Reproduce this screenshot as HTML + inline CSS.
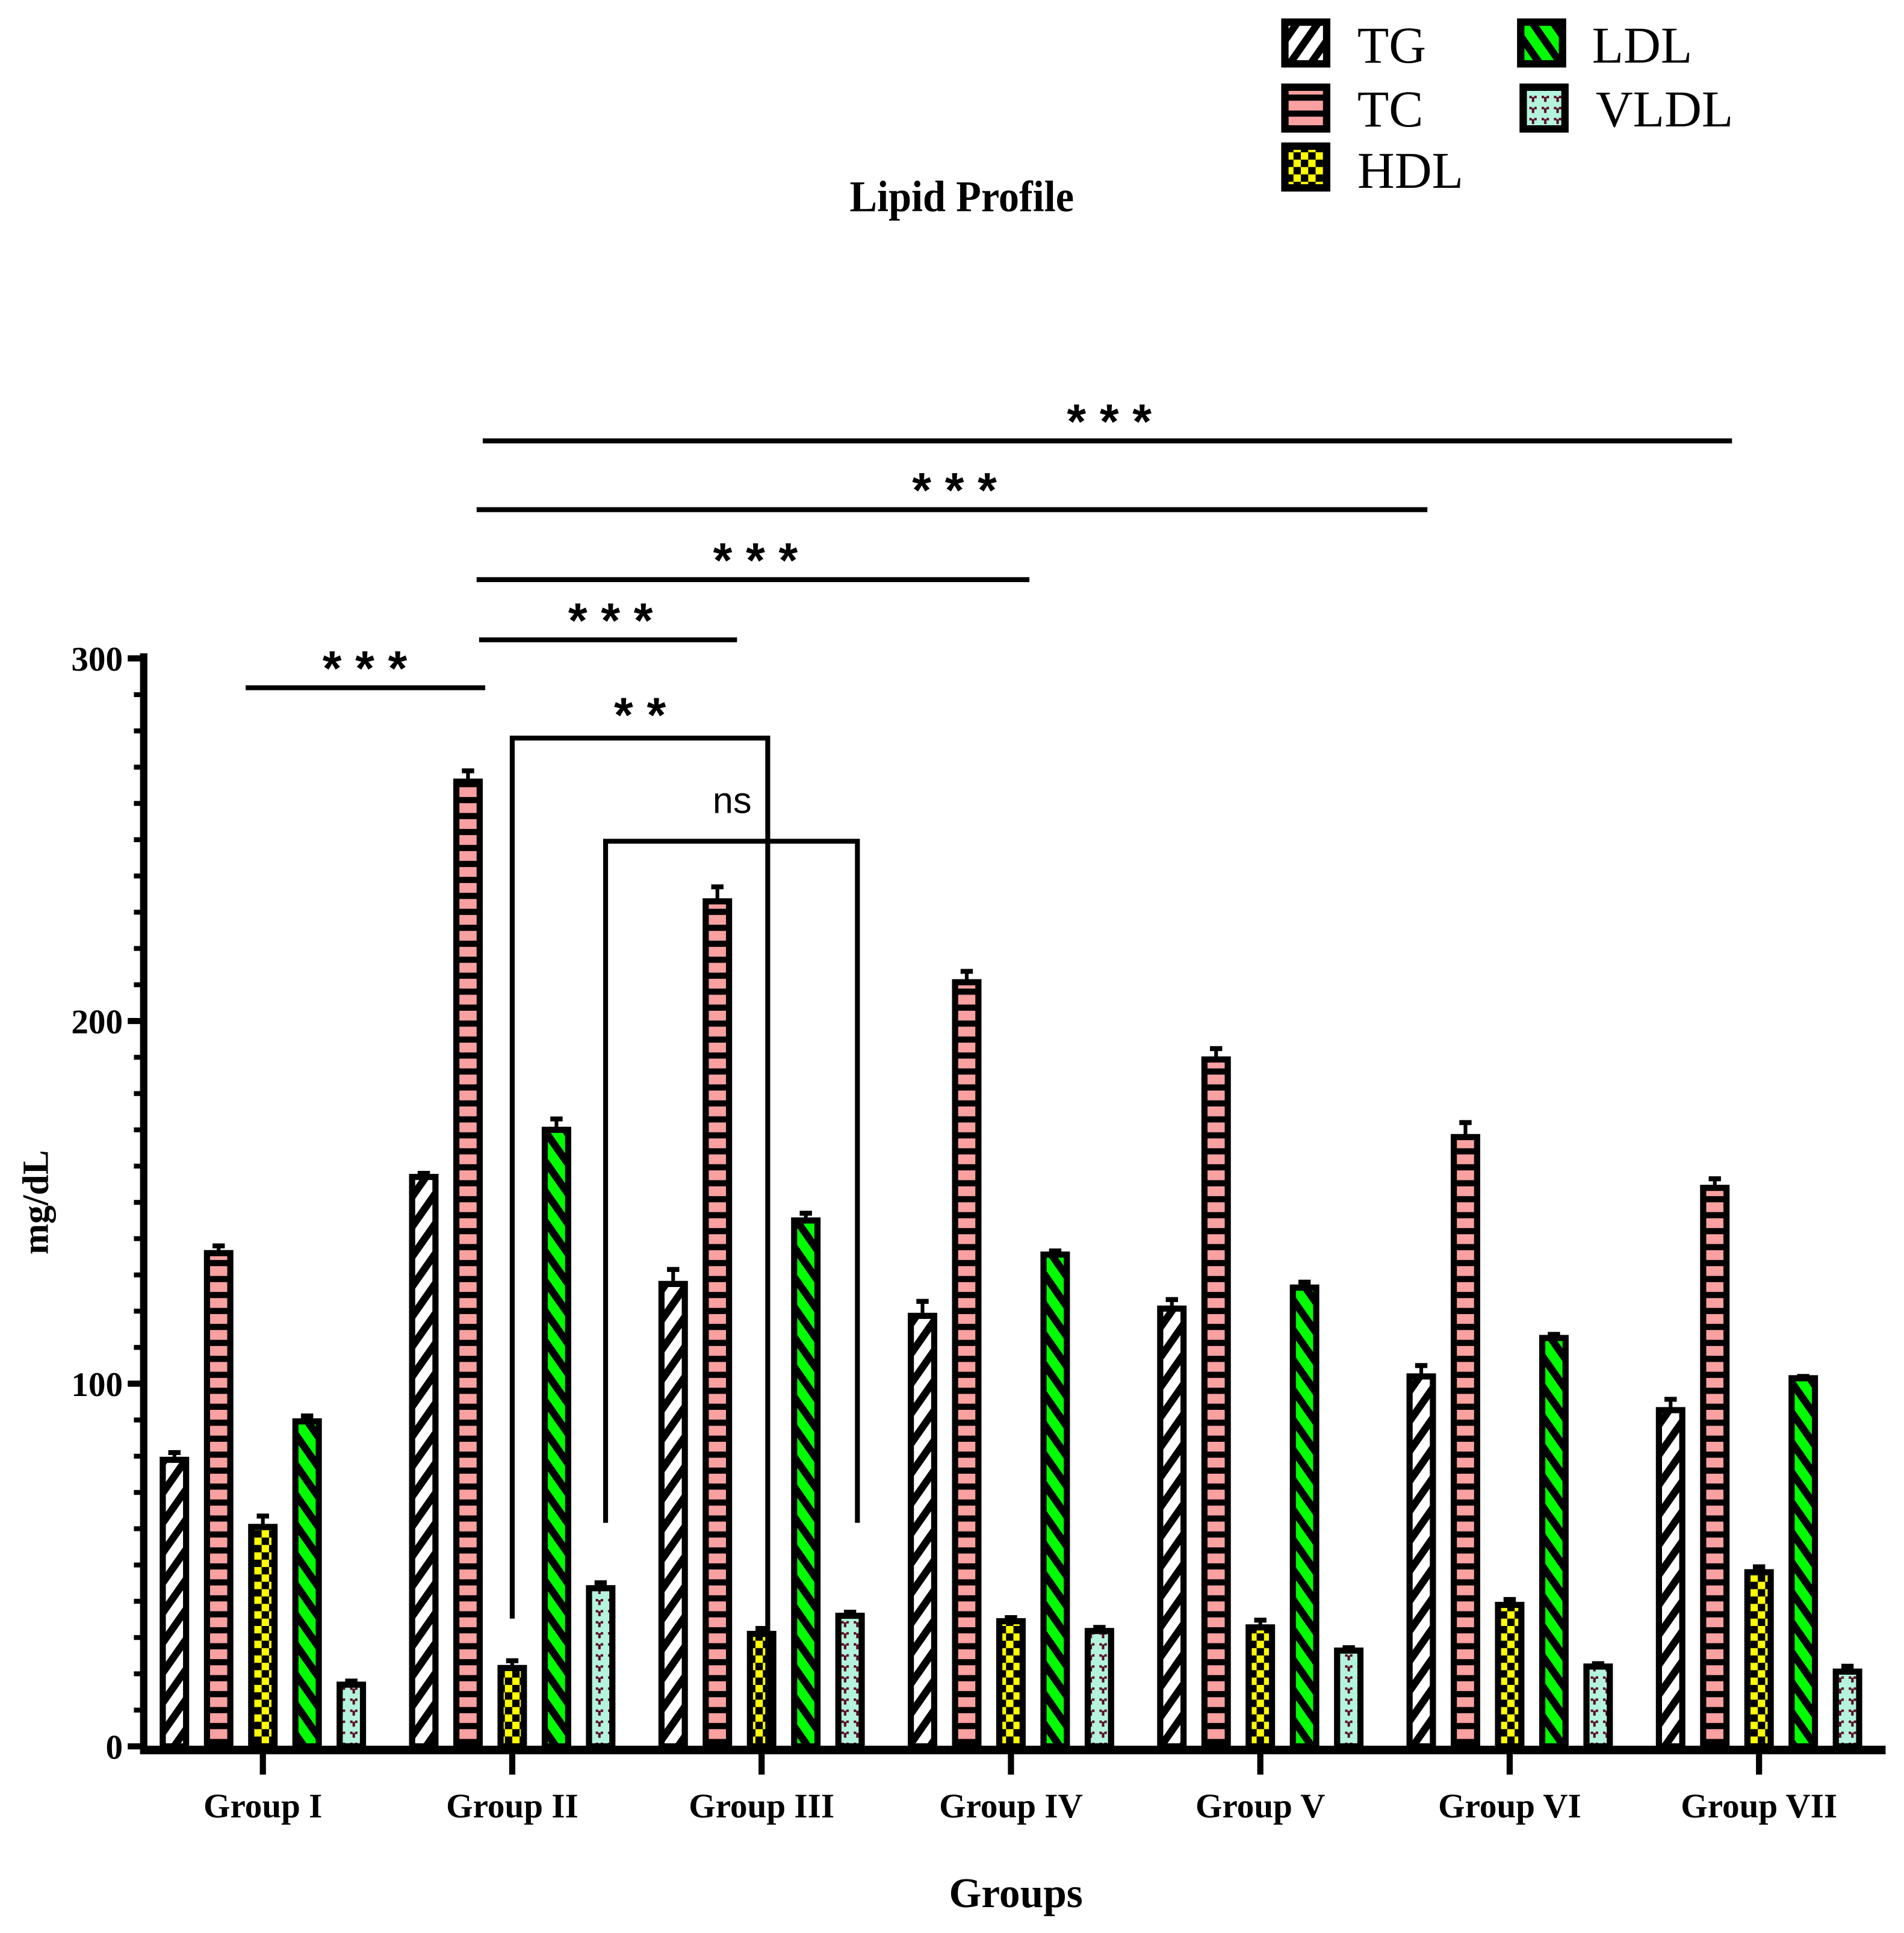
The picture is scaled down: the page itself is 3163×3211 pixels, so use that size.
<!DOCTYPE html>
<html><head><meta charset="utf-8"><style>
html,body{margin:0;padding:0;background:#fff;}
svg{display:block;}
</style></head><body>
<svg xmlns="http://www.w3.org/2000/svg" width="3163" height="3211" viewBox="0 0 1550 1574" preserveAspectRatio="none">
<defs>
<pattern id="pTG" patternUnits="userSpaceOnUse" width="14" height="14" patternTransform="rotate(35)"><rect width="14" height="14" fill="#fff"/><rect width="6" height="14" fill="#000"/></pattern>
<pattern id="pTC" patternUnits="userSpaceOnUse" width="14" height="13"><rect width="14" height="13" fill="#000"/><rect y="0" width="14" height="8" fill="#f9a0a0"/></pattern>
<pattern id="pHDL" patternUnits="userSpaceOnUse" width="12" height="12"><rect width="12" height="12" fill="#000"/><rect x="0" y="0" width="6" height="6" fill="#ff0"/><rect x="6" y="6" width="6" height="6" fill="#ff0"/></pattern>
<pattern id="pLDL" patternUnits="userSpaceOnUse" width="14" height="14" patternTransform="rotate(-35)"><rect width="14" height="14" fill="#00ff00"/><rect width="6" height="14" fill="#000"/></pattern>
<pattern id="pVLDL" patternUnits="userSpaceOnUse" width="10" height="9"><rect width="10" height="9" fill="#b4f4df"/><rect x="4" y="3" width="2" height="4" fill="#5a0a1e"/><rect x="2" y="2" width="2" height="2" fill="#5a0a1e"/><rect x="6" y="2" width="2" height="2" fill="#5a0a1e"/></pattern>
</defs>
<g transform="translate(3,4)">
<g id="bars"></g>
<g id="axes"></g>
<g id="sig"></g>
<text x="780" y="168" text-anchor="middle" font-family="Liberation Serif, serif" font-weight="bold" font-size="36" transform="translate(780,0) scale(0.93,1) translate(-780,0)">Lipid Profile</text>
<text transform="translate(36,975) rotate(-90)" text-anchor="middle" font-family="Liberation Serif, serif" font-weight="bold" font-size="30">mg/dL</text>
<text x="824" y="1549" text-anchor="middle" font-family="Liberation Serif, serif" font-weight="bold" font-size="34">Groups</text>
<g font-family="Liberation Serif, serif" font-size="42">
 <g><rect x="1043" y="14" width="34" height="34" fill="url(#pTG)" stroke="#000" stroke-width="6"/><text x="1102" y="47">TG</text></g>
 <g><rect x="1043" y="67" width="34" height="34" fill="url(#pTC)" stroke="#000" stroke-width="6"/><text x="1102" y="99">TC</text></g>
 <g><rect x="1043" y="115" width="34" height="34" fill="url(#pHDL)" stroke="#000" stroke-width="6"/><text x="1102" y="149">HDL</text></g>
 <g><rect x="1235" y="14" width="34" height="34" fill="url(#pLDL)" stroke="#000" stroke-width="6"/><text x="1293" y="47">LDL</text></g>
 <g><rect x="1237" y="67" width="34" height="34" fill="url(#pVLDL)" stroke="#000" stroke-width="6"/><text x="1296" y="99">VLDL</text></g>
</g>
</g>
</svg>
<script>
const groups = ["Group I","Group II","Group III","Group IV","Group V","Group VI","Group VII"];
const seriesNames = ["TG","TC","HDL","LDL","VLDL"];
const tgValues = [79,157,127.5,118.7,120.7,102,92.7];
const tcValues = [136,266,233,210.7,189.4,168,154];
const hdlValues = [60.5,21.6,31,34.5,32.8,39,48];
const ldlValues = [89.6,170,145,135.6,126.5,112.6,101.5];
const vldlValues = [17,43.6,36,31.8,26.4,22,20.6];
const tgErr = [2,1,4,4,2.5,3,3];
const tcErr = [2,3,4,3,3,4,2.5];
const hdlErr = [3,2,1.5,1,2,1.5,1.5];
const ldlErr = [1.5,3,2,1,1.5,1,0.5];
const vldlErr = [1,1.5,1,1,0.8,0.8,1.5];
const yTicks = [0,100,200,300];

const NS="http://www.w3.org/2000/svg";
const Y0=1418, PX100=295.3, G0=211, GS=203.0, BW=19;
const OFF=[-72,-36,0,36,72];
function yScale(v){return Y0 - v*PX100/100;}
function xScale(g,s){return G0 + g*GS + OFF[s];}
function mk(tag,attrs,parent){const e=document.createElementNS(NS,tag);for(const k in attrs)e.setAttribute(k,attrs[k]);parent.appendChild(e);return e;}

const series=[tgValues,tcValues,hdlValues,ldlValues,vldlValues];
const errs=[tgErr,tcErr,hdlErr,ldlErr,vldlErr];
const fills=["url(#pTG)","url(#pTC)","url(#pHDL)","url(#pLDL)","url(#pVLDL)"];
const barsG=document.getElementById('bars');
series.forEach((vals,s)=>{
  vals.forEach((v,g)=>{
    const cx=xScale(g,s), top=yScale(v);
    const eTop=yScale(v+errs[s][g]);
    const el=mk('line',{x1:cx,x2:cx,y1:top,y2:eTop,stroke:'#000','stroke-width':3},barsG);
    
    
    const cap=mk('line',{x1:cx-5,x2:cx+5,y1:eTop,y2:eTop,stroke:'#000','stroke-width':4},barsG);
    
    
    const r=mk('rect',{x:cx-BW/2,y:top,width:BW,height:Y0-top,fill:fills[s],stroke:'#000','stroke-width':5},barsG);
    
    
  });
});

const ax=document.getElementById('axes');
const ya=mk('line',{x1:114,x2:114,y1:528,y2:1421,stroke:'#000','stroke-width':6},ax);


const xa=mk('line',{x1:111,x2:1532,y1:1421,y2:1421,stroke:'#000','stroke-width':7},ax);


for(let v=0;v<=300;v+=10){
  const y=yScale(v);
  const major=yTicks.indexOf(v)>=0;
  const t=mk('line',{x1:major?101:106,x2:114,y1:y,y2:y,stroke:'#000','stroke-width':major?5:4},ax);
  
  
}
yTicks.forEach(v=>{
  const t=mk('text',{x:97,y:yScale(v)+10,'text-anchor':'end','font-family':'Liberation Serif, serif','font-weight':'bold','font-size':28},ax);
  t.textContent=v;
  
  
});
groups.forEach((n,g)=>{
  const cx=G0+g*GS;
  const t=mk('line',{x1:cx,x2:cx,y1:1421,y2:1441,stroke:'#000','stroke-width':5},ax);
  
  
  const l=mk('text',{x:cx,y:1476,'text-anchor':'middle','font-family':'Liberation Serif, serif','font-weight':'bold','font-size':28},ax);
  l.textContent=n;
  
  
});

const sig=document.getElementById('sig');
const lines=[[197,392,556,294,'* * *'],[387,597,517,494,'* * *'],[385,835,468,612,'* * *'],[385,1159,411,774,'* * *'],[390,1407,355,900,'* * *']];
lines.forEach(L=>{
  const l=mk('line',{x1:L[0],x2:L[1],y1:L[2],y2:L[2],stroke:'#000','stroke-width':4},sig);
  
  
  const t=mk('text',{x:L[3],y:L[2]-2,'text-anchor':'middle','font-family':'Liberation Sans, sans-serif','font-weight':'bold','font-size':40},sig);
  t.textContent=L[4];
  
  
});
const b1=mk('polyline',{points:'414,1314 414,597 622,597 622,1416',fill:'none',stroke:'#000','stroke-width':4},sig);


const t1=mk('text',{x:518,y:592,'text-anchor':'middle','font-family':'Liberation Sans, sans-serif','font-weight':'bold','font-size':40},sig);
t1.textContent='* *';


const b2=mk('polyline',{points:'490,1236 490,681 695,681 695,1236',fill:'none',stroke:'#000','stroke-width':4},sig);


const t2=mk('text',{x:593,y:658,'text-anchor':'middle','font-family':'Liberation Sans, sans-serif','font-size':30},sig);
t2.textContent='ns';


</script>
</body></html>
